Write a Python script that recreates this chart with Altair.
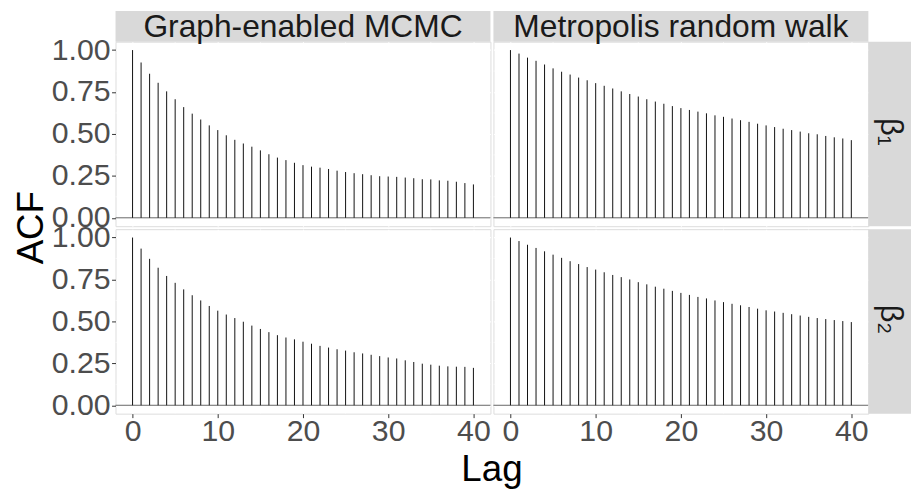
import altair as alt
import pandas as pd

# ---------------- data ----------------
lags = list(range(41))

acf_graph_b1 = [1.000, 0.926, 0.859, 0.805, 0.754, 0.707, 0.660, 0.621, 0.586, 0.551,
                0.523, 0.492, 0.465, 0.443, 0.424, 0.402, 0.379, 0.359, 0.344, 0.328,
                0.314, 0.305, 0.299, 0.291, 0.281, 0.273, 0.266, 0.260, 0.254, 0.248,
                0.246, 0.244, 0.240, 0.236, 0.230, 0.229, 0.223, 0.221, 0.215, 0.207, 0.199]
acf_metro_b1 = [1.000, 0.979, 0.955, 0.936, 0.914, 0.891, 0.871, 0.854, 0.836, 0.820,
                0.803, 0.787, 0.771, 0.754, 0.738, 0.723, 0.707, 0.693, 0.680, 0.666,
                0.654, 0.643, 0.633, 0.623, 0.611, 0.602, 0.592, 0.582, 0.572, 0.561,
                0.551, 0.541, 0.531, 0.523, 0.514, 0.504, 0.498, 0.488, 0.480, 0.473, 0.463]
acf_graph_b2 = [1.000, 0.934, 0.873, 0.820, 0.771, 0.730, 0.691, 0.656, 0.625, 0.592,
                0.564, 0.541, 0.520, 0.498, 0.475, 0.455, 0.436, 0.418, 0.404, 0.393,
                0.379, 0.367, 0.354, 0.344, 0.334, 0.326, 0.316, 0.309, 0.301, 0.293,
                0.285, 0.279, 0.268, 0.258, 0.248, 0.242, 0.236, 0.232, 0.230, 0.229, 0.223]
acf_metro_b2 = [1.000, 0.979, 0.957, 0.938, 0.918, 0.898, 0.879, 0.859, 0.842, 0.824,
                0.809, 0.793, 0.777, 0.764, 0.750, 0.734, 0.721, 0.707, 0.695, 0.682,
                0.670, 0.658, 0.646, 0.637, 0.625, 0.615, 0.605, 0.596, 0.586, 0.576,
                0.566, 0.559, 0.551, 0.543, 0.535, 0.527, 0.520, 0.514, 0.508, 0.502, 0.496]

methods = ["Graph-enabled MCMC", "Metropolis random walk"]
params = ["β₁", "β₂"]
x_ticks = [0, 10, 20, 30, 40]
x_minor = [5, 15, 25, 35]
y_ticks = [0.0, 0.25, 0.5, 0.75, 1.0]
y_minor = [0.125, 0.375, 0.625, 0.875]
x_title = "Lag"
y_title = "ACF"

# ---------------- styling ----------------
W, H = 378, 186
STRIP_TOP = 31
STRIP_RIGHT = 43
FONT = "Liberation Sans"
STRIP_FILL = "#D9D9D9"


def panel(vals, method, param, row, col):
    bottom = row == 1
    left = col == 0
    df = pd.DataFrame({"lag": lags, "acf": vals, "base": [0.0] * len(lags)})
    xs = alt.Scale(domain=[-2, 42], nice=False, zero=False)
    ys = alt.Scale(domain=[-0.05, 1.05], nice=False, zero=False)
    xax = alt.Axis(values=x_ticks, grid=True, gridColor="white", gridWidth=1.1,
                   domain=False, labels=bottom, ticks=bottom, tickColor="#333333",
                   tickSize=4, tickWidth=1, labelFont=FONT, labelFontSize=30.5,
                   labelColor="#4D4D4D", labelPadding=-1, title=None)
    yax = alt.Axis(values=y_ticks, grid=True, gridColor="white", gridWidth=1.1,
                   domain=False, labels=left, ticks=left, tickColor="#333333",
                   tickSize=4, tickWidth=1, labelFont=FONT, labelFontSize=30.5,
                   labelColor="#4D4D4D", labelPadding=1.5, format=".2f", title=None)

    minor_x = alt.Chart(pd.DataFrame({"v": x_minor})).mark_rule(
        color="white", strokeWidth=0.55).encode(
        x=alt.X("v:Q", scale=xs, axis=xax))
    minor_y = alt.Chart(pd.DataFrame({"v": y_minor})).mark_rule(
        color="white", strokeWidth=0.55).encode(
        y=alt.Y("v:Q", scale=ys, axis=yax))
    zero = alt.Chart(pd.DataFrame({"z": [0.0]})).mark_rule(
        color="#666666", strokeWidth=1).encode(
        y=alt.Y("z:Q", scale=ys, axis=yax))
    segs = alt.Chart(df).mark_rule(color="#111111", strokeWidth=1).encode(
        x=alt.X("lag:Q", scale=xs, axis=xax),
        y=alt.Y("acf:Q", scale=ys, axis=yax),
        y2="base:Q")

    layers = [minor_x, minor_y, zero, segs]

    if row == 0:
        sdf = pd.DataFrame({"t": [method]})
        layers.append(alt.Chart(sdf).mark_rect(color=STRIP_FILL).encode(
            x=alt.value(0), x2=alt.value(W), y=alt.value(-STRIP_TOP), y2=alt.value(0)))
        layers.append(alt.Chart(sdf).mark_text(
            font=FONT, fontSize=32, color="#1A1A1A", baseline="middle",
            align="center").encode(
            x=alt.value(W / 2), y=alt.value(-15), text="t:N"))
    if col == 1:
        pdf = pd.DataFrame({"t": [param]})
        layers.append(alt.Chart(pdf).mark_rect(color=STRIP_FILL).encode(
            x=alt.value(W), x2=alt.value(W + STRIP_RIGHT), y=alt.value(0), y2=alt.value(H)))
        layers.append(alt.Chart(pdf).mark_text(
            font=FONT, fontSize=31, color="#1A1A1A", baseline="alphabetic",
            align="center", angle=90).encode(
            x=alt.value(W + 13), y=alt.value(H / 2 - 2), text="t:N"))
    if row == 0 and col == 0:
        layers.append(alt.Chart(pd.DataFrame({"t": [y_title]})).mark_text(
            font=FONT, fontSize=37, color="black", baseline="alphabetic",
            align="center", angle=270).encode(
            x=alt.value(-73), y=alt.value(H + 1.5), text="t:N"))
    if row == 1 and col == 0:
        layers.append(alt.Chart(pd.DataFrame({"t": [x_title]})).mark_text(
            font=FONT, fontSize=37, color="black", baseline="alphabetic",
            align="center").encode(
            x=alt.value(W + 1.5), y=alt.value(253.5), text="t:N"))

    return alt.layer(*layers).properties(width=W, height=H)


tl = panel(acf_graph_b1, methods[0], params[0], 0, 0)
tr = panel(acf_metro_b1, methods[1], params[0], 0, 1)
bl = panel(acf_graph_b2, methods[0], params[1], 1, 0)
br = panel(acf_metro_b2, methods[1], params[1], 1, 1)

chart = alt.concat(tl, tr, bl, br, columns=2, spacing=3, bounds="flush").properties(
    padding={"left": 4.4, "top": 0, "right": 0, "bottom": 1}
).configure_view(fill="#EBEBEB", strokeWidth=0).configure(font=FONT)

chart.save("out.html", embed_options={"renderer": "svg", "actions": False})
